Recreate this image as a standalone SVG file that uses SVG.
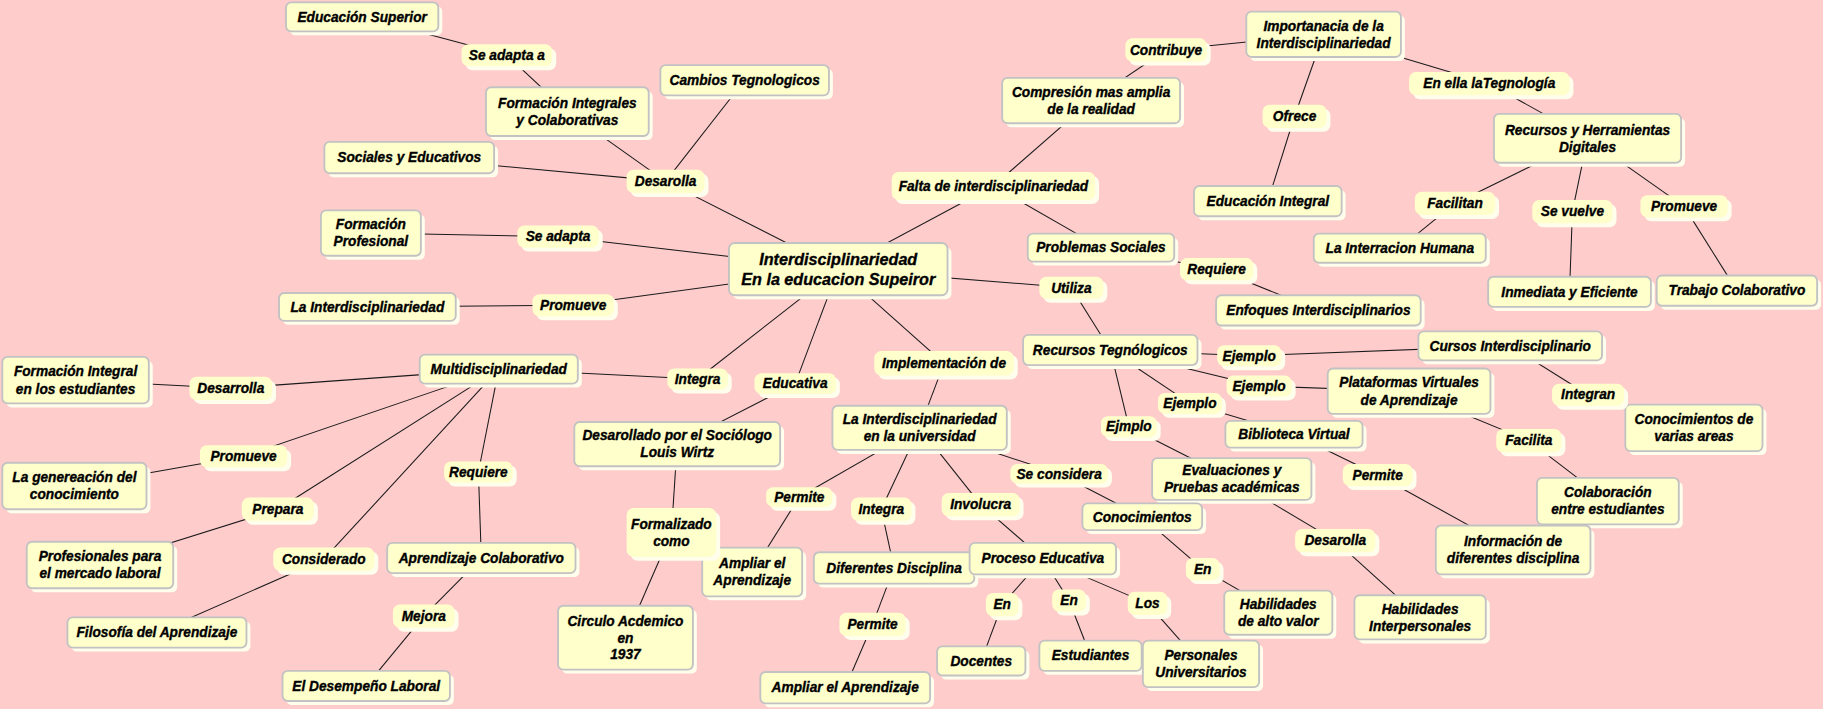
<svg xmlns="http://www.w3.org/2000/svg" width="1823" height="709" viewBox="0 0 1823 709">
<style>
text{font-family:"Liberation Sans",Arial,sans-serif;font-weight:bold;font-style:italic;font-size:11.8px;fill:#000;stroke:#000;stroke-width:0.3;text-anchor:middle}
.big{font-size:13.9px}
.sh{fill:#FFFDEB}
.bx{fill:#FFFFCC;stroke:#C2C2C2;stroke-width:1.6}
.lb{fill:#FFFFCC}
#connectors line{stroke:#1a1a1a;stroke-width:0.9}
</style>
<rect x="0" y="0" width="1823" height="709" fill="#FFCCCC"/>
<g transform="scale(1.1626)">
<g id="connectors">
<line x1="721" y1="231.5" x2="572.5" y2="156"/>
<line x1="572.5" y1="156" x2="488" y2="96"/>
<line x1="572.5" y1="156" x2="640.5" y2="69"/>
<line x1="572.5" y1="156" x2="352" y2="135.5"/>
<line x1="311.5" y1="14.5" x2="436" y2="47.5"/>
<line x1="436" y1="47.5" x2="488" y2="96"/>
<line x1="721" y1="231.5" x2="480" y2="203.5"/>
<line x1="480" y1="203.5" x2="319" y2="200.5"/>
<line x1="721" y1="231.5" x2="493" y2="262.5"/>
<line x1="493" y1="262.5" x2="316" y2="264"/>
<line x1="721" y1="231.5" x2="854.5" y2="160"/>
<line x1="854.5" y1="160" x2="938.5" y2="86.5"/>
<line x1="854.5" y1="160" x2="947" y2="213"/>
<line x1="938.5" y1="86.5" x2="1003" y2="43"/>
<line x1="1003" y1="43" x2="1138.5" y2="29.5"/>
<line x1="1138.5" y1="29.5" x2="1113.5" y2="100"/>
<line x1="1113.5" y1="100" x2="1090.5" y2="173"/>
<line x1="1138.5" y1="29.5" x2="1281" y2="72"/>
<line x1="1281" y1="72" x2="1365.5" y2="119"/>
<line x1="1365.5" y1="119" x2="1251.5" y2="175"/>
<line x1="1251.5" y1="175" x2="1204" y2="213.5"/>
<line x1="1365.5" y1="119" x2="1352.5" y2="182"/>
<line x1="1352.5" y1="182" x2="1350" y2="251"/>
<line x1="1365.5" y1="119" x2="1448.5" y2="177.5"/>
<line x1="1448.5" y1="177.5" x2="1494" y2="250"/>
<line x1="947" y1="213" x2="1046.5" y2="231.5"/>
<line x1="1046.5" y1="231.5" x2="1134" y2="267"/>
<line x1="721" y1="231.5" x2="921.5" y2="247.5"/>
<line x1="921.5" y1="247.5" x2="955" y2="301"/>
<line x1="955" y1="301" x2="1074.5" y2="306"/>
<line x1="1074.5" y1="306" x2="1299" y2="297.5"/>
<line x1="955" y1="301" x2="1083" y2="332"/>
<line x1="1083" y1="332" x2="1212" y2="336.5"/>
<line x1="955" y1="301" x2="1023.5" y2="347"/>
<line x1="1023.5" y1="347" x2="1113" y2="373.5"/>
<line x1="955" y1="301" x2="971" y2="367"/>
<line x1="971" y1="367" x2="1059.5" y2="412"/>
<line x1="1299" y1="297.5" x2="1366" y2="339.5"/>
<line x1="1366" y1="339.5" x2="1457" y2="368"/>
<line x1="1212" y1="336.5" x2="1315" y2="379"/>
<line x1="1315" y1="379" x2="1383" y2="431"/>
<line x1="1113" y1="373.5" x2="1185" y2="408.5"/>
<line x1="1185" y1="408.5" x2="1301.5" y2="473"/>
<line x1="1059.5" y1="412" x2="1148.5" y2="465"/>
<line x1="1148.5" y1="465" x2="1221.5" y2="531"/>
<line x1="721" y1="231.5" x2="812" y2="312.5"/>
<line x1="812" y1="312.5" x2="791" y2="368"/>
<line x1="791" y1="368" x2="911" y2="407.5"/>
<line x1="911" y1="407.5" x2="982.5" y2="444.5"/>
<line x1="982.5" y1="444.5" x2="1034.5" y2="489.5"/>
<line x1="1034.5" y1="489.5" x2="1099.5" y2="527"/>
<line x1="791" y1="368" x2="687.5" y2="427.5"/>
<line x1="687.5" y1="427.5" x2="647" y2="492"/>
<line x1="791" y1="368" x2="758" y2="438"/>
<line x1="758" y1="438" x2="769" y2="488.5"/>
<line x1="769" y1="488.5" x2="750.5" y2="537"/>
<line x1="750.5" y1="537" x2="727" y2="591.5"/>
<line x1="791" y1="368" x2="843.5" y2="434"/>
<line x1="843.5" y1="434" x2="897" y2="480.5"/>
<line x1="897" y1="480.5" x2="862" y2="520"/>
<line x1="862" y1="520" x2="844" y2="568.5"/>
<line x1="897" y1="480.5" x2="919.5" y2="516.5"/>
<line x1="919.5" y1="516.5" x2="938" y2="564"/>
<line x1="897" y1="480.5" x2="987" y2="519"/>
<line x1="987" y1="519" x2="1033" y2="571"/>
<line x1="721" y1="231.5" x2="684" y2="330"/>
<line x1="684" y1="330" x2="582.5" y2="382"/>
<line x1="582.5" y1="382" x2="577.5" y2="458"/>
<line x1="577.5" y1="458" x2="538" y2="548.5"/>
<line x1="721" y1="231.5" x2="600" y2="326"/>
<line x1="600" y1="326" x2="429" y2="317.5"/>
<line x1="429" y1="317.5" x2="198.5" y2="334"/>
<line x1="198.5" y1="334" x2="65" y2="327"/>
<line x1="429" y1="317.5" x2="209.5" y2="392.5"/>
<line x1="209.5" y1="392.5" x2="64" y2="418"/>
<line x1="429" y1="317.5" x2="239" y2="438"/>
<line x1="239" y1="438" x2="86" y2="486"/>
<line x1="429" y1="317.5" x2="278.5" y2="481"/>
<line x1="278.5" y1="481" x2="135" y2="544"/>
<line x1="429" y1="317.5" x2="411.5" y2="406"/>
<line x1="411.5" y1="406" x2="414" y2="480"/>
<line x1="414" y1="480" x2="364.5" y2="530"/>
<line x1="364.5" y1="530" x2="315" y2="590"/>
</g>

<!-- concept nodes -->
<g id="n-edsup"><rect class="sh" x="249.4" y="5.4" width="131" height="25" rx="4.5"/><rect class="bx" x="246" y="2" width="131" height="25" rx="4.5"/><text x="311.5" y="18.6">Educación Superior</text></g>
<g id="n-formint"><rect class="sh" x="421.4" y="78.4" width="140" height="42" rx="4.5"/><rect class="bx" x="418" y="75" width="140" height="42" rx="4.5"/><text><tspan x="488" y="92.8">Formación Integrales</tspan><tspan x="488" y="107.5">y Colaborativas</tspan></text></g>
<g id="n-cambios"><rect class="sh" x="571.4" y="59.4" width="145" height="26" rx="4.5"/><rect class="bx" x="568" y="56" width="145" height="26" rx="4.5"/><text x="640.5" y="73.1">Cambios Tegnologicos</text></g>
<g id="n-sociales"><rect class="sh" x="282.4" y="125.4" width="146" height="27" rx="4.5"/><rect class="bx" x="279" y="122" width="146" height="27" rx="4.5"/><text x="352" y="139.6">Sociales y Educativos</text></g>
<g id="n-formprof"><rect class="sh" x="279.4" y="184.4" width="86" height="39" rx="4.5"/><rect class="bx" x="276" y="181" width="86" height="39" rx="4.5"/><text><tspan x="319" y="197.3">Formación</tspan><tspan x="319" y="212">Profesional</tspan></text></g>
<g id="n-lainter"><rect class="sh" x="243.4" y="255.4" width="152" height="24" rx="4.5"/><rect class="bx" x="240" y="252" width="152" height="24" rx="4.5"/><text x="316" y="268.1">La Interdisciplinariedad</text></g>
<g id="n-center"><rect class="sh" x="630.4" y="212.4" width="188" height="45" rx="5"/><rect class="bx" x="627" y="209" width="188" height="45" rx="5"/><text class="big"><tspan x="721" y="227.9">Interdisciplinariedad</tspan><tspan x="721" y="245.1">En la educacion Supeiror</tspan></text></g>
<g id="n-compresion"><rect class="sh" x="865.4" y="70.4" width="153" height="39" rx="4.5"/><rect class="bx" x="862" y="67" width="153" height="39" rx="4.5"/><text><tspan x="938.5" y="83.3">Compresión mas amplia</tspan><tspan x="938.5" y="98">de la realidad</tspan></text></g>
<g id="n-importancia"><rect class="sh" x="1075.4" y="13.4" width="133" height="39" rx="4.5"/><rect class="bx" x="1072" y="10" width="133" height="39" rx="4.5"/><text><tspan x="1138.5" y="26.3">Importanacia de la</tspan><tspan x="1138.5" y="41">Interdisciplinariedad</tspan></text></g>
<g id="n-edint"><rect class="sh" x="1030.4" y="163.4" width="127" height="26" rx="4.5"/><rect class="bx" x="1027" y="160" width="127" height="26" rx="4.5"/><text x="1090.5" y="177.1">Educación Integral</text></g>
<g id="n-ryhd"><rect class="sh" x="1288.4" y="101.4" width="161" height="42" rx="4.5"/><rect class="bx" x="1285" y="98" width="161" height="42" rx="4.5"/><text><tspan x="1365.5" y="115.8">Recursos y Herramientas</tspan><tspan x="1365.5" y="130.5">Digitales</tspan></text></g>
<g id="n-interracion"><rect class="sh" x="1133.4" y="204.4" width="148" height="25" rx="4.5"/><rect class="bx" x="1130" y="201" width="148" height="25" rx="4.5"/><text x="1204" y="217.6">La Interracion Humana</text></g>
<g id="n-inmediata"><rect class="sh" x="1283.4" y="241.4" width="140" height="26" rx="4.5"/><rect class="bx" x="1280" y="238" width="140" height="26" rx="4.5"/><text x="1350" y="255.1">Inmediata y Eficiente</text></g>
<g id="n-trabajo"><rect class="sh" x="1428.4" y="240.4" width="138" height="26" rx="4.5"/><rect class="bx" x="1425" y="237" width="138" height="26" rx="4.5"/><text x="1494" y="254.1">Trabajo Colaborativo</text></g>
<g id="n-probsoc"><rect class="sh" x="887.4" y="204.4" width="126" height="24" rx="4.5"/><rect class="bx" x="884" y="201" width="126" height="24" rx="4.5"/><text x="947" y="217.1">Problemas Sociales</text></g>
<g id="n-enfoques"><rect class="sh" x="1049.4" y="257.4" width="176" height="26" rx="4.5"/><rect class="bx" x="1046" y="254" width="176" height="26" rx="4.5"/><text x="1134" y="271.1">Enfoques Interdisciplinarios</text></g>
<g id="n-rectec"><rect class="sh" x="883.4" y="291.4" width="150" height="26" rx="4.5"/><rect class="bx" x="880" y="288" width="150" height="26" rx="4.5"/><text x="955" y="305.1">Recursos Tegnólogicos</text></g>
<g id="n-cursos"><rect class="sh" x="1223.4" y="288.4" width="158" height="25" rx="4.5"/><rect class="bx" x="1220" y="285" width="158" height="25" rx="4.5"/><text x="1299" y="301.6">Cursos Interdisciplinario</text></g>
<g id="n-plataformas"><rect class="sh" x="1145.4" y="320.4" width="140" height="39" rx="4.5"/><rect class="bx" x="1142" y="317" width="140" height="39" rx="4.5"/><text><tspan x="1212" y="333.3">Plataformas Virtuales</tspan><tspan x="1212" y="348">de Aprendizaje</tspan></text></g>
<g id="n-biblioteca"><rect class="sh" x="1057.4" y="365.4" width="118" height="23" rx="4.5"/><rect class="bx" x="1054" y="362" width="118" height="23" rx="4.5"/><text x="1113" y="377.6">Biblioteca Virtual</text></g>
<g id="n-convarias"><rect class="sh" x="1401.4" y="351.4" width="118" height="40" rx="4.5"/><rect class="bx" x="1398" y="348" width="118" height="40" rx="4.5"/><text><tspan x="1457" y="364.8">Conocimientos de</tspan><tspan x="1457" y="379.5">varias areas</tspan></text></g>
<g id="n-evaluaciones"><rect class="sh" x="994.4" y="397.4" width="137" height="36" rx="4.5"/><rect class="bx" x="991" y="394" width="137" height="36" rx="4.5"/><text><tspan x="1059.5" y="408.8">Evaluaciones y</tspan><tspan x="1059.5" y="423.5">Pruebas académicas</tspan></text></g>
<g id="n-colaboracion"><rect class="sh" x="1325.4" y="414.4" width="122" height="40" rx="4.5"/><rect class="bx" x="1322" y="411" width="122" height="40" rx="4.5"/><text><tspan x="1383" y="427.8">Colaboración</tspan><tspan x="1383" y="442.5">entre estudiantes</tspan></text></g>
<g id="n-informacion"><rect class="sh" x="1238.4" y="455.4" width="133" height="42" rx="4.5"/><rect class="bx" x="1235" y="452" width="133" height="42" rx="4.5"/><text><tspan x="1301.5" y="469.8">Información de</tspan><tspan x="1301.5" y="484.5">diferentes disciplina</tspan></text></g>
<g id="n-habinter"><rect class="sh" x="1168.4" y="515.4" width="113" height="38" rx="4.5"/><rect class="bx" x="1165" y="512" width="113" height="38" rx="4.5"/><text><tspan x="1221.5" y="527.8">Habilidades</tspan><tspan x="1221.5" y="542.5">Interpersonales</tspan></text></g>
<g id="n-habalto"><rect class="sh" x="1056.4" y="511.4" width="93" height="38" rx="4.5"/><rect class="bx" x="1053" y="508" width="93" height="38" rx="4.5"/><text><tspan x="1099.5" y="523.8">Habilidades</tspan><tspan x="1099.5" y="538.5">de alto valor</tspan></text></g>
<g id="n-conocimientos"><rect class="sh" x="934.4" y="436.4" width="103" height="23" rx="4.5"/><rect class="bx" x="931" y="433" width="103" height="23" rx="4.5"/><text x="982.5" y="448.6">Conocimientos</text></g>
<g id="n-liu"><rect class="sh" x="719.4" y="352.4" width="150" height="38" rx="4.5"/><rect class="bx" x="716" y="349" width="150" height="38" rx="4.5"/><text><tspan x="791" y="364.8">La Interdisciplinariedad</tspan><tspan x="791" y="379.5">en la universidad</tspan></text></g>
<g id="n-ampliar2"><rect class="sh" x="607.4" y="474.4" width="86" height="42" rx="4.5"/><rect class="bx" x="604" y="471" width="86" height="42" rx="4.5"/><text><tspan x="647" y="488.8">Ampliar el</tspan><tspan x="647" y="503.5">Aprendizaje</tspan></text></g>
<g id="n-difdis"><rect class="sh" x="703.4" y="478.4" width="138" height="27" rx="4.5"/><rect class="bx" x="700" y="475" width="138" height="27" rx="4.5"/><text x="769" y="492.6">Diferentes Disciplina</text></g>
<g id="n-proceso"><rect class="sh" x="837.4" y="470.4" width="126" height="27" rx="4.5"/><rect class="bx" x="834" y="467" width="126" height="27" rx="4.5"/><text x="897" y="484.6">Proceso Educativa</text></g>
<g id="n-ampliar1"><rect class="sh" x="657.4" y="581.4" width="146" height="27" rx="4.5"/><rect class="bx" x="654" y="578" width="146" height="27" rx="4.5"/><text x="727" y="595.6">Ampliar el Aprendizaje</text></g>
<g id="n-docentes"><rect class="sh" x="809.4" y="559.4" width="76" height="25" rx="4.5"/><rect class="bx" x="806" y="556" width="76" height="25" rx="4.5"/><text x="844" y="572.6">Docentes</text></g>
<g id="n-estudiantes"><rect class="sh" x="897.4" y="554.4" width="88" height="26" rx="4.5"/><rect class="bx" x="894" y="551" width="88" height="26" rx="4.5"/><text x="938" y="568.1">Estudiantes</text></g>
<g id="n-personales"><rect class="sh" x="986.4" y="554.4" width="100" height="40" rx="4.5"/><rect class="bx" x="983" y="551" width="100" height="40" rx="4.5"/><text><tspan x="1033" y="567.8">Personales</tspan><tspan x="1033" y="582.5">Universitarios</tspan></text></g>
<g id="n-multi"><rect class="sh" x="364.4" y="308.4" width="136" height="25" rx="4.5"/><rect class="bx" x="361" y="305" width="136" height="25" rx="4.5"/><text x="429" y="321.6">Multidisciplinariedad</text></g>
<g id="n-formintest"><rect class="sh" x="5.4" y="310.4" width="126" height="40" rx="4.5"/><rect class="bx" x="2" y="307" width="126" height="40" rx="4.5"/><text><tspan x="65" y="323.8">Formación Integral</tspan><tspan x="65" y="338.5">en los estudiantes</tspan></text></g>
<g id="n-desarollado"><rect class="sh" x="497.4" y="366.4" width="177" height="38" rx="4.5"/><rect class="bx" x="494" y="363" width="177" height="38" rx="4.5"/><text><tspan x="582.5" y="378.8">Desarollado por el Sociólogo</tspan><tspan x="582.5" y="393.5">Louis Wirtz</tspan></text></g>
<g id="n-circulo"><rect class="sh" x="483.4" y="524.4" width="116" height="55" rx="4.5"/><rect class="bx" x="480" y="521" width="116" height="55" rx="4.5"/><text><tspan x="538" y="538.4">Circulo Acdemico</tspan><tspan x="538" y="552.7">en</tspan><tspan x="538" y="567">1937</tspan></text></g>
<g id="n-genereacion"><rect class="sh" x="5.4" y="401.4" width="124" height="40" rx="4.5"/><rect class="bx" x="2" y="398" width="124" height="40" rx="4.5"/><text><tspan x="64" y="414.8">La genereación del</tspan><tspan x="64" y="429.5">conocimiento</tspan></text></g>
<g id="n-profesionales"><rect class="sh" x="26.4" y="469.4" width="126" height="40" rx="4.5"/><rect class="bx" x="23" y="466" width="126" height="40" rx="4.5"/><text><tspan x="86" y="482.8">Profesionales para</tspan><tspan x="86" y="497.5">el mercado laboral</tspan></text></g>
<g id="n-aprcol"><rect class="sh" x="336.4" y="470.4" width="162" height="26" rx="4.5"/><rect class="bx" x="333" y="467" width="162" height="26" rx="4.5"/><text x="414" y="484.1">Aprendizaje Colaborativo</text></g>
<g id="n-filosofia"><rect class="sh" x="61.4" y="534.4" width="154" height="26" rx="4.5"/><rect class="bx" x="58" y="531" width="154" height="26" rx="4.5"/><text x="135" y="548.1">Filosofía del Aprendizaje</text></g>
<g id="n-desempeno"><rect class="sh" x="246.4" y="580.4" width="144" height="26" rx="4.5"/><rect class="bx" x="243" y="577" width="144" height="26" rx="4.5"/><text x="315" y="594.1">El Desempeño Laboral</text></g>

<!-- linking phrases -->
<g id="l-seadaptaa"><rect class="sh" x="400.4" y="41.4" width="78" height="19" rx="6"/><rect class="lb" x="397" y="38" width="78" height="19" rx="6"/><text x="436" y="51.6">Se adapta a</text></g>
<g id="l-desarolla"><rect class="sh" x="542.4" y="149.4" width="67" height="20" rx="6"/><rect class="lb" x="539" y="146" width="67" height="20" rx="6"/><text x="572.5" y="160.1">Desarolla</text></g>
<g id="l-seadapta"><rect class="sh" x="448.4" y="197.4" width="70" height="19" rx="6"/><rect class="lb" x="445" y="194" width="70" height="19" rx="6"/><text x="480" y="207.6">Se adapta</text></g>
<g id="l-promueve"><rect class="sh" x="461.4" y="256.4" width="70" height="19" rx="6"/><rect class="lb" x="458" y="253" width="70" height="19" rx="6"/><text x="493" y="266.6">Promueve</text></g>
<g id="l-falta"><rect class="sh" x="770.4" y="151.4" width="175" height="24" rx="6"/><rect class="lb" x="767" y="148" width="175" height="24" rx="6"/><text x="854.5" y="164.1">Falta de interdisciplinariedad</text></g>
<g id="l-contribuye"><rect class="sh" x="971.4" y="36.4" width="70" height="20" rx="6"/><rect class="lb" x="968" y="33" width="70" height="20" rx="6"/><text x="1003" y="47.1">Contribuye</text></g>
<g id="l-enella"><rect class="sh" x="1215.4" y="65.4" width="138" height="20" rx="6"/><rect class="lb" x="1212" y="62" width="138" height="20" rx="6"/><text x="1281" y="76.1">En ella laTegnología</text></g>
<g id="l-ofrece"><rect class="sh" x="1089.4" y="93.4" width="55" height="20" rx="6"/><rect class="lb" x="1086" y="90" width="55" height="20" rx="6"/><text x="1113.5" y="104.1">Ofrece</text></g>
<g id="l-facilitan"><rect class="sh" x="1220.4" y="168.4" width="69" height="20" rx="6"/><rect class="lb" x="1217" y="165" width="69" height="20" rx="6"/><text x="1251.5" y="179.1">Facilitan</text></g>
<g id="l-sevuelve"><rect class="sh" x="1321.4" y="175.4" width="69" height="20" rx="6"/><rect class="lb" x="1318" y="172" width="69" height="20" rx="6"/><text x="1352.5" y="186.1">Se vuelve</text></g>
<g id="l-promueve2"><rect class="sh" x="1414.4" y="171.4" width="75" height="19" rx="6"/><rect class="lb" x="1411" y="168" width="75" height="19" rx="6"/><text x="1448.5" y="181.6">Promueve</text></g>
<g id="l-requiere"><rect class="sh" x="1018.4" y="225.4" width="63" height="19" rx="6"/><rect class="lb" x="1015" y="222" width="63" height="19" rx="6"/><text x="1046.5" y="235.6">Requiere</text></g>
<g id="l-utiliza"><rect class="sh" x="897.4" y="241.4" width="55" height="19" rx="6"/><rect class="lb" x="894" y="238" width="55" height="19" rx="6"/><text x="921.5" y="251.6">Utiliza</text></g>
<g id="l-ejemplo1"><rect class="sh" x="1050.4" y="300.4" width="55" height="18" rx="6"/><rect class="lb" x="1047" y="297" width="55" height="18" rx="6"/><text x="1074.5" y="310.1">Ejemplo</text></g>
<g id="l-ejemplo2"><rect class="sh" x="1058.4" y="326.4" width="56" height="18" rx="6"/><rect class="lb" x="1055" y="323" width="56" height="18" rx="6"/><text x="1083" y="336.1">Ejemplo</text></g>
<g id="l-ejemplo3"><rect class="sh" x="999.4" y="341.4" width="55" height="18" rx="6"/><rect class="lb" x="996" y="338" width="55" height="18" rx="6"/><text x="1023.5" y="351.1">Ejemplo</text></g>
<g id="l-ejmplo"><rect class="sh" x="950.4" y="361.4" width="48" height="18" rx="6"/><rect class="lb" x="947" y="358" width="48" height="18" rx="6"/><text x="971" y="371.1">Ejmplo</text></g>
<g id="l-integran"><rect class="sh" x="1338.4" y="333.4" width="62" height="19" rx="6"/><rect class="lb" x="1335" y="330" width="62" height="19" rx="6"/><text x="1366" y="343.6">Integran</text></g>
<g id="l-facilita"><rect class="sh" x="1290.4" y="372.4" width="56" height="20" rx="6"/><rect class="lb" x="1287" y="369" width="56" height="20" rx="6"/><text x="1315" y="383.1">Facilita</text></g>
<g id="l-permite3"><rect class="sh" x="1158.4" y="402.4" width="60" height="19" rx="6"/><rect class="lb" x="1155" y="399" width="60" height="19" rx="6"/><text x="1185" y="412.6">Permite</text></g>
<g id="l-desarolla2"><rect class="sh" x="1117.4" y="458.4" width="69" height="20" rx="6"/><rect class="lb" x="1114" y="455" width="69" height="20" rx="6"/><text x="1148.5" y="469.1">Desarolla</text></g>
<g id="l-en3"><rect class="sh" x="1023.4" y="483.4" width="29" height="19" rx="6"/><rect class="lb" x="1020" y="480" width="29" height="19" rx="6"/><text x="1034.5" y="493.6">En</text></g>
<g id="l-seconsidera"><rect class="sh" x="872.4" y="402.4" width="84" height="17" rx="6"/><rect class="lb" x="869" y="399" width="84" height="17" rx="6"/><text x="911" y="411.6">Se considera</text></g>
<g id="l-implementacion"><rect class="sh" x="755.4" y="305.4" width="120" height="21" rx="6"/><rect class="lb" x="752" y="302" width="120" height="21" rx="6"/><text x="812" y="316.6">Implementación de</text></g>
<g id="l-permite1"><rect class="sh" x="662.4" y="422.4" width="57" height="17" rx="6"/><rect class="lb" x="659" y="419" width="57" height="17" rx="6"/><text x="687.5" y="431.6">Permite</text></g>
<g id="l-integra2"><rect class="sh" x="735.4" y="431.4" width="52" height="20" rx="6"/><rect class="lb" x="732" y="428" width="52" height="20" rx="6"/><text x="758" y="442.1">Integra</text></g>
<g id="l-involucra"><rect class="sh" x="813.4" y="427.4" width="67" height="20" rx="6"/><rect class="lb" x="810" y="424" width="67" height="20" rx="6"/><text x="843.5" y="438.1">Involucra</text></g>
<g id="l-permite2"><rect class="sh" x="725.4" y="530.4" width="57" height="20" rx="6"/><rect class="lb" x="722" y="527" width="57" height="20" rx="6"/><text x="750.5" y="541.1">Permite</text></g>
<g id="l-en1"><rect class="sh" x="851.4" y="513.4" width="28" height="20" rx="6"/><rect class="lb" x="848" y="510" width="28" height="20" rx="6"/><text x="862" y="524.1">En</text></g>
<g id="l-en2"><rect class="sh" x="908.4" y="510.4" width="29" height="19" rx="6"/><rect class="lb" x="905" y="507" width="29" height="19" rx="6"/><text x="919.5" y="520.6">En</text></g>
<g id="l-los"><rect class="sh" x="973.4" y="512.4" width="34" height="20" rx="6"/><rect class="lb" x="970" y="509" width="34" height="20" rx="6"/><text x="987" y="523.1">Los</text></g>
<g id="l-educativa"><rect class="sh" x="652.4" y="324.4" width="70" height="18" rx="6"/><rect class="lb" x="649" y="321" width="70" height="18" rx="6"/><text x="684" y="334.1">Educativa</text></g>
<g id="l-integra1"><rect class="sh" x="577.4" y="320.4" width="52" height="18" rx="6"/><rect class="lb" x="574" y="317" width="52" height="18" rx="6"/><text x="600" y="330.1">Integra</text></g>
<g id="l-desarrolla"><rect class="sh" x="166.4" y="327.4" width="71" height="20" rx="6"/><rect class="lb" x="163" y="324" width="71" height="20" rx="6"/><text x="198.5" y="338.1">Desarrolla</text></g>
<g id="l-formalizado"><rect class="sh" x="542.4" y="440.4" width="77" height="42" rx="6"/><rect class="lb" x="539" y="437" width="77" height="42" rx="6"/><text><tspan x="577.5" y="454.8">Formalizado</tspan><tspan x="577.5" y="469.5">como</tspan></text></g>
<g id="l-promueve3"><rect class="sh" x="175.4" y="386.4" width="75" height="19" rx="6"/><rect class="lb" x="172" y="383" width="75" height="19" rx="6"/><text x="209.5" y="396.6">Promueve</text></g>
<g id="l-prepara"><rect class="sh" x="211.4" y="431.4" width="62" height="20" rx="6"/><rect class="lb" x="208" y="428" width="62" height="20" rx="6"/><text x="239" y="442.1">Prepara</text></g>
<g id="l-requiere2"><rect class="sh" x="385.4" y="400.4" width="59" height="18" rx="6"/><rect class="lb" x="382" y="397" width="59" height="18" rx="6"/><text x="411.5" y="410.1">Requiere</text></g>
<g id="l-considerado"><rect class="sh" x="238.4" y="474.4" width="87" height="20" rx="6"/><rect class="lb" x="235" y="471" width="87" height="20" rx="6"/><text x="278.5" y="485.1">Considerado</text></g>
<g id="l-mejora"><rect class="sh" x="341.4" y="523.4" width="53" height="20" rx="6"/><rect class="lb" x="338" y="520" width="53" height="20" rx="6"/><text x="364.5" y="534.1">Mejora</text></g>
</g>
</svg>
